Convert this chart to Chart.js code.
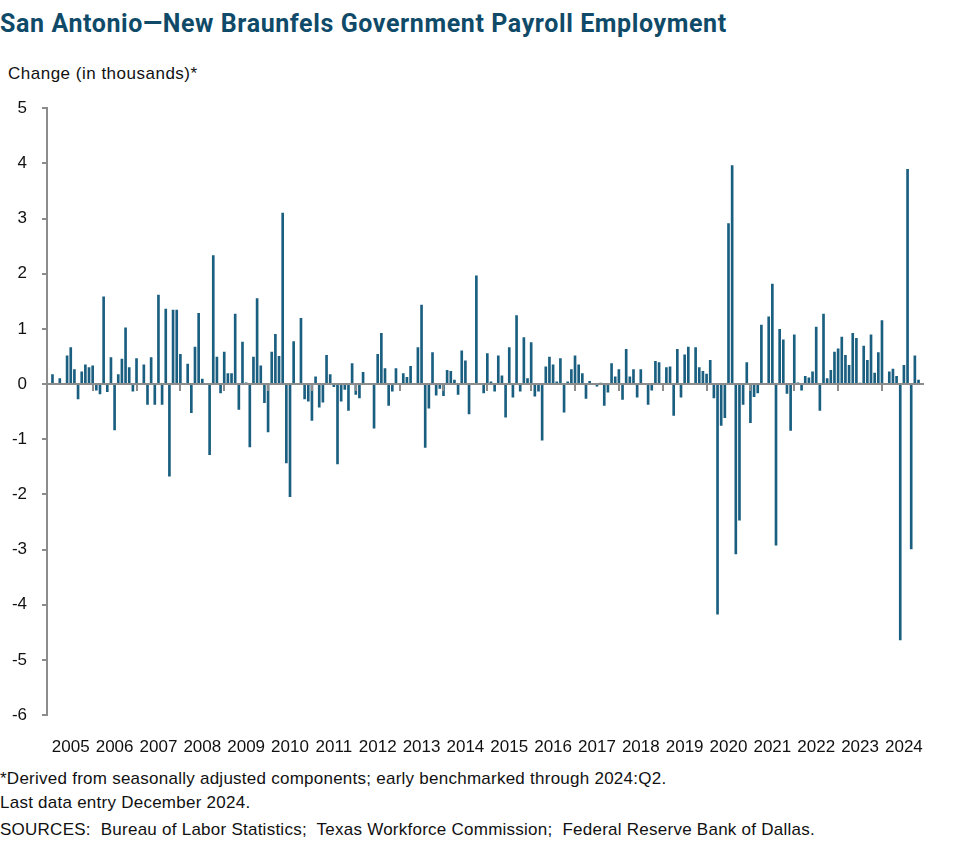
<!DOCTYPE html>
<html>
<head>
<meta charset="utf-8">
<script src="https://cdn.jsdelivr.net/npm/chart.js@4"></script>
<style>
  body { margin: 0; background: #fff; width: 977px; height: 864px; position: relative; overflow: hidden; font-family: "Liberation Sans", Arial, sans-serif; }
  #title { position: absolute; left: 0; top: 9px; font: bold 25px "Roboto", sans-serif; letter-spacing: 0.6px; color: #0f4b69; white-space: nowrap; }
  #ylabel { position: absolute; left: 8px; top: 64px; font-size: 17px; letter-spacing: 0.5px; color: #111; }
  #wrap { position: absolute; left: 0; top: 83px; width: 977px; height: 675px; }
  .note { position: absolute; left: 0; font-size: 17px; letter-spacing: 0.25px; color: #111; white-space: nowrap; }
</style>
</head>
<body>
<div id="title">San Antonio—New Braunfels Government Payroll Employment</div>
<div id="ylabel">Change (in thousands)*</div>
<div id="wrap"><canvas id="chart" width="977" height="675"></canvas></div>
<div class="note" style="top:769px">*Derived from seasonally adjusted components; early benchmarked through 2024:Q2.</div>
<div class="note" style="top:793px">Last data entry December 2024.</div>
<div class="note" style="top:820px">SOURCES:&nbsp; Bureau of Labor Statistics;&nbsp; Texas Workforce Commission;&nbsp; Federal Reserve Bank of Dallas.</div>
<script>
// -----------------------------
// Data (monthly change, thousands)
// -----------------------------
const years = [2005, 2006, 2007, 2008, 2009, 2010, 2011, 2012, 2013, 2014,
               2015, 2016, 2017, 2018, 2019, 2020, 2021, 2022, 2023, 2024];
const yTicks = [5, 4, 3, 2, 1, 0, -1, -2, -3, -4, -5, -6];

const monthlyChange = [
    0, 0.17, 0, 0.10, 0, 0.51, 0.66, 0.26, -0.27, 0.22, 0.35, 0.30,          // 2005
    0.33, -0.11, -0.18, 1.58, -0.14, 0.48, -0.83, 0.17, 0.45, 1.02, 0.30, -0.13, // 2006
    0.46, 0, 0.35, -0.37, 0.48, -0.37, 1.61, -0.37, 1.36, -1.67, 1.34, 1.34,  // 2007
    0.54, 0, 0.36, -0.52, 0.67, 1.28, 0.09, 0, -1.28, 2.33, 0.49, -0.16,      // 2008
    0.58, 0.19, 0.19, 1.27, -0.46, 0.76, 0.02, -1.14, 0.49, 1.55, 0.33, -0.34, // 2009
    -0.87, 0.58, 0.90, 0.50, 3.10, -1.43, -2.04, 0.77, 0, 1.19, -0.27, -0.31, // 2010
    -0.66, 0.13, -0.42, -0.33, 0.52, 0.17, -0.05, -1.45, -0.31, -0.10, -0.48, 0.37, // 2011
    -0.19, -0.25, 0.21, 0, 0, -0.80, 0.54, 0.92, 0.28, -0.39, -0.13, 0.28,    // 2012
    0, 0.19, 0.12, 0.32, 0, 0.66, 1.43, -1.15, -0.44, 0.57, -0.20, -0.08,     // 2013
    -0.21, 0.25, 0.23, 0.07, -0.19, 0.60, 0.42, -0.54, 0, 1.96, 0, -0.16,     // 2014
    0.55, 0.04, -0.13, 0.51, 0.15, -0.60, 0.66, -0.24, 1.24, -0.13, 0.84, 0.10, // 2015
    0.75, -0.22, -0.13, -1.02, 0.31, 0.49, 0.35, 0.04, 0.46, -0.51, 0.04, 0.26, // 2016
    0.51, 0.35, 0.19, -0.26, 0.05, 0, -0.04, 0.01, -0.39, -0.15, 0.37, 0.13,  // 2017
    0.26, -0.28, 0.63, 0.13, 0.26, -0.24, 0.26, 0, -0.37, -0.11, 0.41, 0.39,  // 2018
    0, 0.30, 0.31, -0.57, 0.63, -0.24, 0.53, 0.67, 0, 0.66, 0.30, 0.23,       // 2019
    0.18, 0.43, -0.25, -4.17, -0.75, -0.61, 2.91, 3.96, -3.08, -2.47, -0.37, 0.39, // 2020
    -0.70, -0.23, -0.16, 1.07, 0, 1.22, 1.81, -2.92, 0.99, 0.80, -0.17, -0.84, // 2021
    0.89, 0.02, -0.11, 0.14, 0.11, 0.22, 1.03, -0.48, 1.27, 0.10, 0.25, 0.58, // 2022
    0.64, 0.85, 0.52, 0.34, 0.92, 0.83, 0.01, 0.69, 0.43, 0.89, 0.20, 0.57,   // 2023
    1.15, 0, 0.22, 0.27, 0.14, -4.64, 0.34, 3.89, -2.99, 0.51, 0.07, 0        // 2024
];

const monthLabels = [];
years.forEach(yr => {
    for (let m = 1; m <= 12; m++) monthLabels.push(yr + '-' + String(m).padStart(2, '0'));
});

const axisGray = '#8c8c8c';

// -----------------------------
// Zero line + year tick marks
// -----------------------------
const zeroAxis = {
    id: 'zeroAxis',
    afterDatasetsDraw(chart) {
        const { ctx, chartArea, scales: { x, y } } = chart;
        const y0 = y.getPixelForValue(0);
        ctx.save();
        ctx.strokeStyle = axisGray;
        ctx.lineWidth = 2;
        ctx.beginPath();
        ctx.moveTo(chartArea.left, y0);
        ctx.lineTo(chartArea.right, y0);
        for (let i = 12; i < monthLabels.length; i += 12) {
            const px = Math.round(x.getPixelForValue(i));
            ctx.moveTo(px, y0);
            ctx.lineTo(px, y0 + 7);
        }
        ctx.stroke();
        ctx.restore();
    }
};

// -----------------------------
// Chart
// -----------------------------
const ctx = document.getElementById('chart').getContext('2d');
new Chart(ctx, {
    type: 'bar',
    data: {
        labels: monthLabels,
        datasets: [{
            data: monthlyChange,
            backgroundColor: '#1a5f80',
            barThickness: 2,
            borderWidth: 0
        }]
    },
    options: {
        responsive: false,
        animation: false,
        layout: { padding: { top: 0, right: 53, left: 0, bottom: 0 } },
        plugins: { legend: { display: false }, tooltip: { enabled: false } },
        scales: {
            x: {
                offset: true,
                grid: { display: false, drawTicks: false },
                border: { display: false },
                ticks: {
                    autoSkip: false,
                    maxRotation: 0,
                    padding: 22,
                    color: '#111',
                    font: { family: 'Liberation Sans', size: 17 },
                    callback: (val, i) => (i % 12 === 6 ? monthLabels[i].slice(0, 4) : '')
                },
                afterFit: s => { s.height = 43; }
            },
            y: {
                min: -6,
                max: 5,
                afterBuildTicks: s => { s.ticks = yTicks.map(v => ({ value: v })); },
                grid: { drawOnChartArea: false, tickLength: 5, color: axisGray, lineWidth: 2 },
                border: { color: axisGray, width: 2 },
                ticks: {
                    padding: 15,
                    color: '#111',
                    font: { family: 'Liberation Sans', size: 17 }
                },
                afterFit: s => { s.width = 47; }
            }
        }
    },
    plugins: [zeroAxis]
});
</script>
</body>
</html>
